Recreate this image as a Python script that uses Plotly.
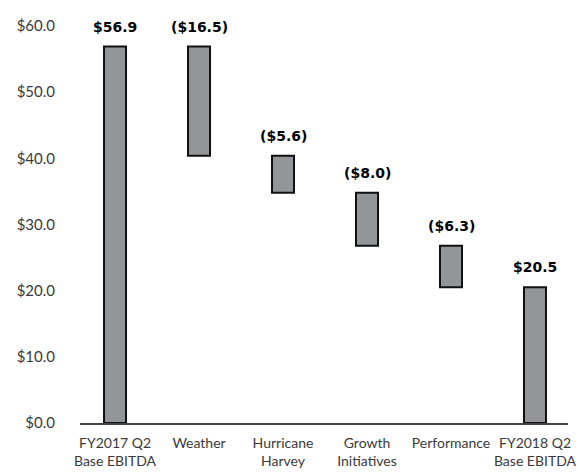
import plotly.graph_objects as go

# EBITDA bridge, FY2017 Q2 -> FY2018 Q2 ($ millions)
categories = ["FY2017 Q2<br>Base EBITDA", "Weather", "Hurricane<br>Harvey",
              "Growth<br>Initiatives", "Performance", "FY2018 Q2<br>Base EBITDA"]
measures = ["absolute", "relative", "relative", "relative", "relative", "total"]
values = [56.9, -16.5, -5.6, -8.0, -6.3, 20.5]
value_labels = ["$56.9", "($16.5)", "($5.6)", "($8.0)", "($6.3)", "$20.5"]
y_ticks = [0, 10, 20, 30, 40, 50, 60]

bar_fill = "#939598"
bar_edge = "#111111"

fig = go.Figure(go.Waterfall(
    x=categories,
    y=values,
    measure=measures,
    width=0.262,
    increasing=dict(marker=dict(color=bar_fill, line=dict(color=bar_edge, width=2))),
    decreasing=dict(marker=dict(color=bar_fill, line=dict(color=bar_edge, width=2))),
    totals=dict(marker=dict(color=bar_fill, line=dict(color=bar_edge, width=2))),
    connector=dict(visible=False),
    hoverinfo="skip",
))

# value labels above the top edge of each bar
running = 0.0
tops = []
for m, v in zip(measures, values):
    if m == "absolute":
        running = v
        tops.append(v)
    elif m == "total":
        tops.append(running)
    else:
        tops.append(max(running, running + v))
        running += v

for cat, top, lab in zip(categories, tops, value_labels):
    fig.add_annotation(
        x=cat, y=top, text="<b>" + lab + "</b>", showarrow=False,
        yanchor="middle", yshift=20,
        font=dict(family="DejaVu Sans", size=14, color="#000000"),
    )

fig.update_layout(
    width=578, height=472,
    margin=dict(l=80, r=10, t=26, b=49),
    paper_bgcolor="white", plot_bgcolor="white",
    showlegend=False,
    font=dict(family="Lato", size=14, color="#3a3a3a"),
)
fig.update_xaxes(
    range=[-0.417, 5.393], automargin=False,
    showline=True, linecolor="#444444", linewidth=2,
    showgrid=False, ticks="", tickangle=0,
    ticklabelstandoff=6,
    tickfont=dict(family="Lato", size=14, color="#3a3a3a"),
)
fig.update_yaxes(
    range=[0, 60], tickvals=y_ticks, tickformat="$.1f", automargin=False,
    showgrid=False, zeroline=False, showline=False,
    ticks="", ticklabelstandoff=24,
    tickfont=dict(family="Lato", size=15, color="#3a3a3a"),
)

fig.write_html("out.html")
